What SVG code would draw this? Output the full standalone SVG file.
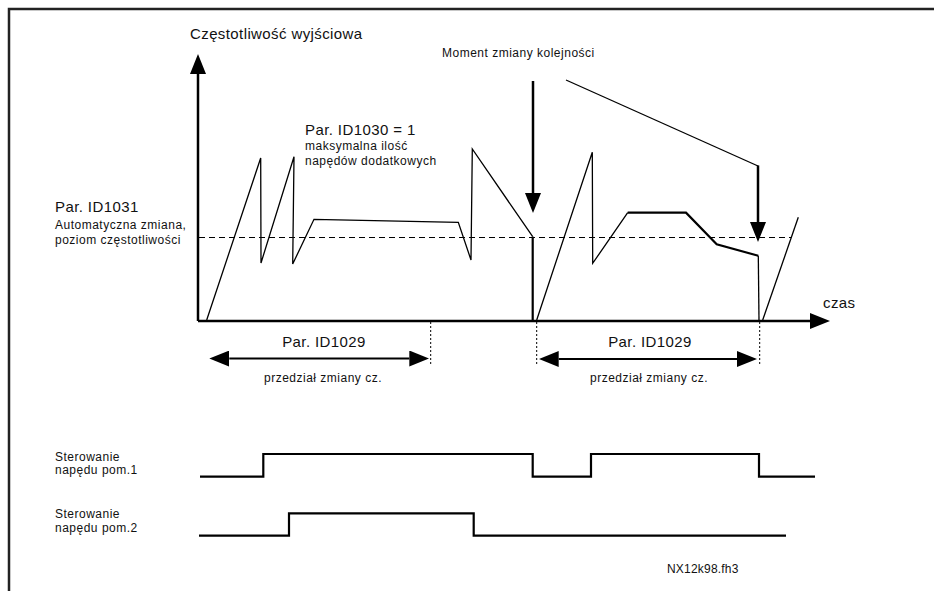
<svg xmlns="http://www.w3.org/2000/svg" width="934" height="591" viewBox="0 0 934 591">
  <defs>
    <marker id="head" viewBox="0 0 20 16" markerWidth="20" markerHeight="16" refX="0" refY="8" orient="auto-start-reverse" markerUnits="userSpaceOnUse">
      <path d="M0,0 L20,8 L0,16 z" fill="#000"/>
    </marker>
    <style>
      text { font-family: "Liberation Sans", Arial, sans-serif; fill: #111; }
      .big { font-size: 15px; letter-spacing: 0.4px; }
      .small { font-size: 12px; letter-spacing: 0.5px; }
      .axis { stroke: #000; stroke-width: 2.5; fill: none; }
      .wave { stroke: #000; stroke-width: 1.3; fill: none; stroke-linejoin: miter; }
      .thick { stroke: #000; stroke-width: 2.2; fill: none; }
      .level { stroke: #000; stroke-width: 1; stroke-dasharray: 6 4; fill: none; }
      .mark { stroke: #000; stroke-width: 1; stroke-dasharray: 2 2; fill: none; }
      .span { stroke: #000; stroke-width: 1.8; fill: none; }
      .sig { stroke: #000; stroke-width: 2.2; fill: none; stroke-linejoin: miter; }
      .frame { stroke: #222; stroke-width: 2.5; fill: none; }
    </style>
  </defs>

  <rect width="934" height="591" fill="#fff"/>
  <path class="frame" d="M9,591 V9 H934"/>

  <!-- axes -->
  <g id="axes">
    <line class="axis" x1="198" y1="321" x2="198" y2="74" marker-end="url(#head)"/>
    <line class="axis" x1="198" y1="321" x2="810" y2="321" marker-end="url(#head)"/>
    <text class="big" x="190" y="39">Częstotliwość wyjściowa</text>
    <text class="big" x="823" y="308">czas</text>
  </g>

  <!-- switching frequency level -->
  <g id="level">
    <line class="level" x1="199" y1="237.5" x2="791" y2="237.5"/>
    <text class="big" x="55" y="212">Par. ID1031</text>
    <text class="small" x="55" y="229">Automatyczna zmiana,</text>
    <text class="small" x="55" y="244">poziom częstotliwości</text>
  </g>

  <!-- output frequency curve -->
  <g id="curve">
    <polyline class="wave" points="206.7,320 260.7,158 261,263 294,156.7 292.7,264 314,219.3 458.3,222.3 471,260 472.3,149 532.7,236.7"/>
    <line class="thick" x1="532.7" y1="236.7" x2="532.7" y2="321"/>
    <polyline class="wave" points="536.7,320 592.3,152.3 592.7,263.3 627.7,212.7"/>
    <polyline class="thick" points="627.7,212.7 686,212.7 716.7,244.3 758.3,255.7"/>
    <polyline class="wave" points="758.3,255.7 759,320"/>
    <line class="wave" x1="762.7" y1="320" x2="798.3" y2="217.3"/>
  </g>

  <!-- max number of auxiliary drives -->
  <g id="maxaux">
    <text class="big" x="305" y="135">Par. ID1030 = 1</text>
    <text class="small" x="305" y="150">maksymalna ilość</text>
    <text class="small" x="305" y="165">napędów dodatkowych</text>
  </g>

  <!-- autochange moments -->
  <g id="moment">
    <text class="small" x="442" y="57">Moment zmiany kolejności</text>
  </g>

  <!-- change intervals -->
  <g id="interval1">
    <text class="big" x="324" y="347" text-anchor="middle">Par. ID1029</text>
    <text class="small" x="323" y="382" text-anchor="middle">przedział zmiany cz.</text>
  </g>
  <g id="interval2">
    <text class="big" x="650" y="347" text-anchor="middle">Par. ID1029</text>
    <text class="small" x="649" y="382" text-anchor="middle">przedział zmiany cz.</text>
  </g>

  <!-- auxiliary drive control signals -->
  <g id="aux1">
    <text class="small" x="55" y="461">Sterowanie</text>
    <text class="small" x="55" y="474">napędu pom.1</text>
    <polyline class="sig" points="200,476.7 263.3,476.7 263.3,454 532.7,454 532.7,476.7 591,476.7 591,454 759,454 759,476.7 815,476.7"/>
  </g>
  <g id="aux2">
    <text class="small" x="55" y="518">Sterowanie</text>
    <text class="small" x="55" y="532">napędu pom.2</text>
    <polyline class="sig" points="199,535.7 289,535.7 289,513.3 473.7,513.3 473.7,535.7 786,535.7"/>
  </g>

  <g id="ref">
    <text x="667" y="573" style="font-size:12px;letter-spacing:0.2px">NX12k98.fh3</text>
  </g>

  <!-- connectors -->
  <g id="connectors">
    <line class="axis" x1="533" y1="81" x2="533" y2="193" marker-end="url(#head)"/>
    <line class="wave" x1="566" y1="80" x2="758" y2="166"/>
    <line class="axis" x1="758" y1="165.4" x2="758" y2="222" marker-end="url(#head)"/>
    <line class="mark" x1="430.7" y1="322" x2="430.7" y2="364"/>
    <line class="mark" x1="536.7" y1="322" x2="536.7" y2="364"/>
    <line class="mark" x1="759.7" y1="322" x2="759.7" y2="364"/>
    <line class="span" x1="229.3" y1="358.5" x2="409.3" y2="358.5" marker-start="url(#head)" marker-end="url(#head)"/>
    <line class="span" x1="558.7" y1="359" x2="737" y2="359" marker-start="url(#head)" marker-end="url(#head)"/>
  </g>
</svg>
